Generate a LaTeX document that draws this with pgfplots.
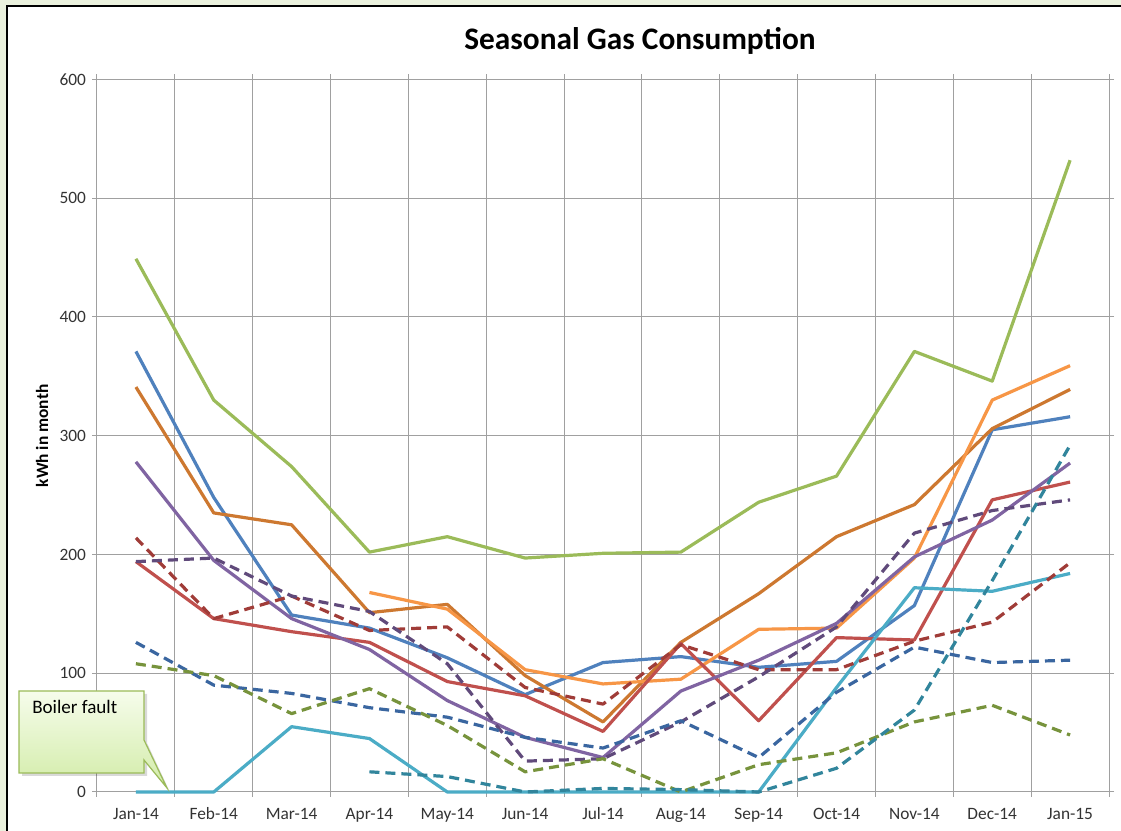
\documentclass[border=0pt]{standalone}
\usepackage{fontspec}
\setmainfont{Carlito}
\usepackage{pgfplots}
\pgfplotsset{compat=1.18}
\definecolor{bgg}{RGB}{234,241,221}
\definecolor{gridgray}{RGB}{160,160,160}
\definecolor{cgreen}{HTML}{9BBB59}
\definecolor{cblue}{HTML}{4F81BD}
\definecolor{cbrown}{RGB}{205,120,48}
\definecolor{corange}{HTML}{F79646}
\definecolor{cred}{HTML}{C0504D}
\definecolor{cpurple}{HTML}{8064A2}
\definecolor{caqua}{HTML}{4BACC6}
\definecolor{dred}{RGB}{160,60,56}
\definecolor{dpurple}{HTML}{604A7B}
\definecolor{dblue}{RGB}{58,102,160}
\definecolor{dgreen}{HTML}{77933C}
\definecolor{dteal}{HTML}{31859C}
\definecolor{calltop}{RGB}{246,252,235}
\definecolor{callbot}{RGB}{210,236,168}
\definecolor{callborder}{HTML}{9BBB59}
\begin{document}
\begin{tikzpicture}
\useasboundingbox (0,0) rectangle (840.75pt,623.25pt);
\begin{scope}[yshift=623.25pt, x=0.75pt, y=-0.75pt]
\clip (0,0) rectangle (1121,831);
\fill[bgg] (0,0) rectangle (1121,831);
\draw[draw=black, fill=white, line width=1.5pt] (7,6) rectangle (1160,870);
\end{scope}
\begin{axis}[
  at={(72.75pt,29.25pt)}, anchor=south west,
  scale only axis, width=759pt, height=534.4pt,
  xmin=-0.5, xmax=12.5, ymin=0, ymax=600,
  xtick={0,...,12},
  xticklabels={Jan-14,Feb-14,Mar-14,Apr-14,May-14,Jun-14,Jul-14,Aug-14,Sep-14,Oct-14,Nov-14,Dec-14,Jan-15},
  minor xtick={-0.5,0.5,...,12.5},
  xminorgrids=true, ymajorgrids=true,
  ytick={0,100,...,600},
  tick align=outside,
  major tick length=3.75pt, minor tick length=3.75pt,
  major x tick style={draw=none},
  minor x tick style={draw=gridgray, line width=0.75pt},
  ytick style={draw=gridgray, line width=0.75pt},
  grid style={gridgray, line width=0.75pt},
  minor grid style={gridgray, line width=0.75pt},
  axis line style={gridgray, line width=0.75pt},
  tick label style={font=\fontsize{13}{15}\selectfont, text=black!80},
  xticklabel style={anchor=base, text height=9pt, text depth=3pt, yshift=-17pt},
  yticklabel style={xshift=-1pt},
  /pgf/number format/assume math mode=true,
  clip=false,
  every axis plot/.append style={line width=2.4pt, line join=round},
]
% solid series
\addplot[cgreen] coordinates {(0,449) (1,330) (2,274) (3,202) (4,215) (5,197) (6,201) (7,202) (8,244) (9,266) (10,371) (11,346) (12,532)};
\addplot[cblue] coordinates {(0,371) (1,248) (2,149) (3,138) (4,113) (5,82) (6,109) (7,114) (8,105) (9,110) (10,157) (11,305) (12,316)};
\addplot[cbrown] coordinates {(0,341) (1,235) (2,225) (3,151) (4,158) (5,98) (6,59) (7,126) (8,167) (9,215) (10,242) (11,306) (12,339)};
\addplot[corange] coordinates {(3,168) (4,154) (5,103) (6,91) (7,95) (8,137) (9,138) (10,197) (11,330) (12,359)};
\addplot[cred] coordinates {(0,194) (1,146) (2,135) (3,126) (4,93) (5,81) (6,51) (7,125) (8,60) (9,130) (10,128) (11,246) (12,261)};
\addplot[cpurple] coordinates {(0,278) (1,195) (2,146) (3,120) (4,77) (5,46) (6,29) (7,85) (8,111) (9,142) (10,198) (11,229) (12,277)};
\addplot[caqua] coordinates {(0,0) (1,0) (2,55) (3,45) (4,0) (5,0) (6,0) (7,0) (8,0) (9,88) (10,172) (11,169) (12,184)};
% dashed series
\addplot[dred, dash pattern=on 7.5pt off 4.5pt] coordinates {(0,214) (1,146) (2,165) (3,136) (4,139) (5,88) (6,74) (7,124) (8,103) (9,103) (10,127) (11,143) (12,193)};
\addplot[dpurple, dash pattern=on 7.5pt off 4.5pt] coordinates {(0,194) (1,197) (2,165) (3,152) (4,108) (5,26) (6,28) (7,59) (8,97) (9,139) (10,218) (11,237) (12,246)};
\addplot[dblue, dash pattern=on 7.5pt off 4.5pt] coordinates {(0,126) (1,90) (2,83) (3,71) (4,63) (5,46) (6,37) (7,60) (8,29) (9,84) (10,122) (11,109) (12,111)};
\addplot[dgreen, dash pattern=on 7.5pt off 4.5pt] coordinates {(0,108) (1,98) (2,66) (3,87) (4,56) (5,17) (6,28) (7,0) (8,23) (9,33) (10,59) (11,73) (12,48)};
\addplot[dteal, dash pattern=on 7.5pt off 4.5pt] coordinates {(3,17) (4,13) (5,0) (6,3) (7,2) (8,0) (9,20) (10,69) (11,178) (12,292)};
\end{axis}
\begin{scope}[yshift=623.25pt, x=0.75pt, y=-0.75pt]
\node[font=\fontsize{23.5}{28}\selectfont\bfseries] at (640,41) {Seasonal Gas Consumption};
\node[rotate=90, font=\fontsize{13}{15}\selectfont\bfseries] at (42,436) {kWh in month};
\fill[black, opacity=0.15] (22,694) -- (147,694) -- (147,743) -- (169,790) -- (147,763) -- (147,776) -- (22,776) -- cycle;
\shade[top color=calltop, bottom color=callbot, draw=callborder, line width=0.9pt]
  (19,691) -- (144,691) -- (144,740) -- (167,788) -- (144,760) -- (144,773) -- (19,773) -- cycle;
\node[anchor=base west, font=\fontsize{14.3}{17}\selectfont, inner sep=0pt] at (32,714) {Boiler fault};
\end{scope}
\end{tikzpicture}
\end{document}
